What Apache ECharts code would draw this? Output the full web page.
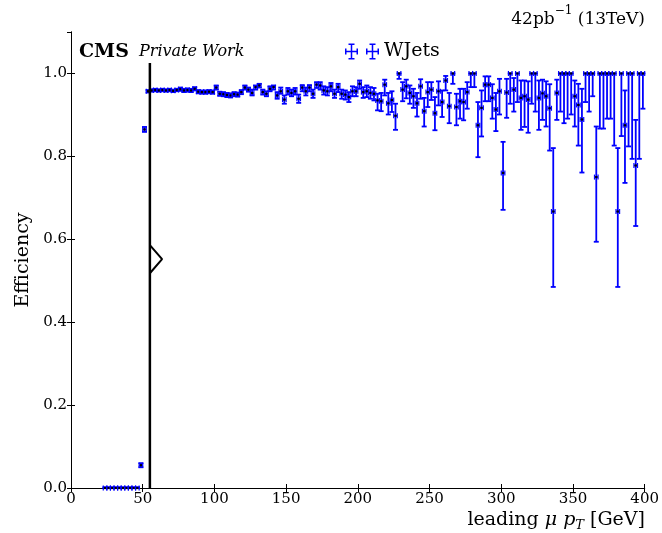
<!DOCTYPE html>
<html>
<head>
<meta charset="utf-8">
<script src="https://cdn.jsdelivr.net/npm/echarts/dist/echarts.min.js"></script>
<style>
  html, body { margin: 0; padding: 0; background: #fff; }
  #chart { width: 662px; height: 533px; }
</style>
</head>
<body>
<div id="chart"></div>
<script>
// histogram binning of leading muon pT (GeV)
const BIN_START = 22.5;
const BIN_WIDTH = 2.5;

// trigger efficiency per bin, and the ends of its error bar
const efficiency = [
  0, 0, 0, 0, 0, 0, 0, 0, 0, 0,
  0.055, 0.865, 0.957, 0.959, 0.960, 0.959, 0.960, 0.959, 0.960, 0.958,
  0.960, 0.962, 0.959, 0.960, 0.959, 0.963, 0.956, 0.955, 0.955, 0.956,
  0.955, 0.966, 0.951, 0.950, 0.948, 0.947, 0.950, 0.949, 0.955, 0.966,
  0.961, 0.953, 0.967, 0.971, 0.955, 0.951, 0.963, 0.967, 0.947, 0.957,
  0.937, 0.957, 0.953, 0.957, 0.939, 0.966, 0.957, 0.966, 0.951, 0.973,
  0.971, 0.959, 0.957, 0.969, 0.951, 0.967, 0.951, 0.949, 0.943, 0.957,
  0.957, 0.975, 0.955, 0.957, 0.953, 0.951, 0.935, 0.933, 0.973, 0.928,
  0.936, 0.898, 1.000, 0.961, 0.969, 0.953, 0.945, 0.928, 0.969, 0.909,
  0.955, 0.961, 0.904, 0.957, 0.931, 0.983, 0.921, 1.000, 0.919, 0.933,
  0.931, 0.955, 1.000, 1.000, 0.875, 0.917, 0.973, 0.973, 0.941, 0.913,
  0.957, 0.760, 0.954, 1.000, 0.961, 1.000, 0.941, 0.945, 0.937, 1.000,
  1.000, 0.941, 0.952, 0.945, 0.916, 0.667, 0.953, 1.000, 1.000, 1.000,
  1.000, 0.945, 0.924, 0.889, 1.000, 1.000, 1.000, 0.750, 1.000, 1.000,
  1.000, 1.000, 1.000, 0.667, 1.000, 0.875, 1.000, 1.000, 0.778, 1.000,
  1.000
];
const effLow = [
  0, 0, 0, 0, 0, 0, 0, 0, 0, 0,
  0.050, 0.859, 0.954, 0.956, 0.957, 0.956, 0.957, 0.956, 0.957, 0.955,
  0.957, 0.958, 0.955, 0.956, 0.955, 0.959, 0.952, 0.951, 0.951, 0.952,
  0.951, 0.961, 0.946, 0.945, 0.943, 0.942, 0.945, 0.944, 0.950, 0.961,
  0.956, 0.947, 0.961, 0.966, 0.949, 0.945, 0.957, 0.961, 0.939, 0.951,
  0.927, 0.949, 0.945, 0.949, 0.929, 0.957, 0.947, 0.957, 0.941, 0.965,
  0.961, 0.949, 0.947, 0.957, 0.941, 0.955, 0.939, 0.937, 0.931, 0.945,
  0.945, 0.963, 0.941, 0.943, 0.939, 0.935, 0.911, 0.909, 0.947, 0.901,
  0.907, 0.864, 0.987, 0.933, 0.940, 0.927, 0.917, 0.896, 0.939, 0.872,
  0.919, 0.936, 0.863, 0.923, 0.895, 0.959, 0.880, 0.975, 0.875, 0.891,
  0.887, 0.915, 0.967, 0.967, 0.798, 0.848, 0.933, 0.933, 0.891, 0.861,
  0.901, 0.671, 0.893, 0.927, 0.908, 0.931, 0.864, 0.871, 0.857, 0.927,
  0.908, 0.864, 0.888, 0.872, 0.814, 0.485, 0.888, 0.908, 0.880, 0.891,
  0.901, 0.872, 0.826, 0.761, 0.931, 0.908, 0.945, 0.594, 0.867, 0.867,
  0.891, 0.891, 0.826, 0.485, 0.849, 0.736, 0.824, 0.794, 0.632, 0.794,
  0.915
];
const effHigh = [
  0.002, 0.002, 0.002, 0.002, 0.002, 0.002, 0.002, 0.002, 0.002, 0.002,
  0.060, 0.871, 0.960, 0.962, 0.963, 0.962, 0.963, 0.962, 0.963, 0.961,
  0.963, 0.966, 0.963, 0.964, 0.963, 0.967, 0.960, 0.959, 0.959, 0.960,
  0.959, 0.971, 0.956, 0.955, 0.953, 0.952, 0.955, 0.954, 0.960, 0.971,
  0.966, 0.961, 0.971, 0.975, 0.961, 0.957, 0.969, 0.971, 0.955, 0.966,
  0.947, 0.965, 0.961, 0.965, 0.949, 0.972, 0.966, 0.972, 0.961, 0.979,
  0.979, 0.969, 0.967, 0.977, 0.961, 0.975, 0.961, 0.959, 0.955, 0.969,
  0.967, 0.983, 0.967, 0.971, 0.967, 0.965, 0.951, 0.953, 0.985, 0.953,
  0.957, 0.927, 1.000, 0.979, 0.985, 0.971, 0.963, 0.953, 0.986, 0.941,
  0.979, 0.979, 0.943, 0.981, 0.959, 0.994, 0.953, 1.000, 0.951, 0.963,
  0.963, 0.979, 1.000, 1.000, 0.931, 0.959, 0.993, 0.993, 0.974, 0.953,
  0.987, 0.835, 0.987, 1.000, 0.989, 1.000, 0.983, 0.983, 0.981, 1.000,
  1.000, 0.983, 0.985, 0.981, 0.974, 0.820, 0.985, 1.000, 1.000, 1.000,
  1.000, 0.983, 0.975, 0.963, 1.000, 1.000, 1.000, 0.872, 1.000, 1.000,
  1.000, 1.000, 1.000, 0.820, 1.000, 0.959, 1.000, 1.000, 0.888, 1.000,
  1.000
];

// offline cut at 55 GeV, with its arrow
const cutLine = [[55, 0], [55, 1.025]];
const cutArrow = [[55, 0.586], [63.5, 0.552], [55, 0.518]];

const SERIF = '"DejaVu Serif", "Liberation Serif", serif';

const binCenters = efficiency.map((_, i) => BIN_START + BIN_WIDTH * (i + 0.5));
const points = efficiency.map((e, i) => [binCenters[i], e, effLow[i], effHigh[i]]);

// two errorbar glyphs, like the matplotlib legend handle
function glyph(cx) {
  const r = (x, y, w, h) => `M${x} ${y}h${w}v${h}h${-w}Z`;
  return r(cx - 0.75, 0.5, 1.5, 15) + r(cx - 3, 0, 6, 1.5) + r(cx - 3, 14.5, 6, 1.5) +
    r(cx - 6.5, 7.25, 13, 1.5) + r(cx - 6.5, 5, 1.5, 6) + r(cx + 5, 5, 1.5, 6);
}
const legendIcon = 'path://' + glyph(6.5) + glyph(27.5);

function renderErrorBar(params, api) {
  const x = api.value(0);
  const y = api.value(1);
  const c = api.coord([x, y]);
  const left = api.coord([x - BIN_WIDTH / 2, y]);
  const right = api.coord([x + BIN_WIDTH / 2, y]);
  const bot = api.coord([x, api.value(2)]);
  const top = api.coord([x, api.value(3)]);
  const cap = 2.5;
  const seg = (x1, y1, x2, y2, w) => ({
    type: 'line',
    shape: {x1, y1, x2, y2},
    style: {stroke: '#0000ff', lineWidth: w},
  });
  return {
    type: 'group',
    children: [
      seg(c[0], bot[1], c[0], top[1], 1.8),
      seg(c[0] - cap, bot[1], c[0] + cap, bot[1], 1.8),
      seg(c[0] - cap, top[1], c[0] + cap, top[1], 1.8),
      seg(left[0], c[1], right[0], c[1], 1.5),
      seg(left[0], c[1] - cap, left[0], c[1] + cap, 1.2),
      seg(right[0], c[1] - cap, right[0], c[1] + cap, 1.2),
      {type: 'rect', shape: {x: c[0] - 1.1, y: c[1] - 1.1, width: 2.2, height: 2.2}, style: {fill: '#000'}},
    ],
  };
}

const chart = echarts.init(document.getElementById('chart'));

const axisCommon = {
  axisLine: {show: true, lineStyle: {color: '#000', width: 1}},
  axisTick: {show: true, inside: true, length: 4, lineStyle: {color: '#000'}},
  splitLine: {show: false},
};

const option = {
  animation: false,
  grid: {left: 71, right: 16, top: 32, bottom: 45},
  legend: {
    data: [{name: 'WJets', icon: legendIcon}],
    left: 340,
    top: 37,
    itemWidth: 34,
    itemHeight: 16,
    selectedMode: false,
    textStyle: {fontFamily: SERIF, fontSize: 19, color: '#000'},
  },
  xAxis: [
    {
      type: 'value', min: 0, max: 400, interval: 50, position: 'bottom',
      ...axisCommon,
      axisLabel: {fontFamily: SERIF, fontSize: 15, color: '#000', margin: 4},
    },
    {
      type: 'value', min: 0, max: 400, interval: 50, position: 'top',
      ...axisCommon,
      axisLabel: {show: false},
    },
  ],
  yAxis: [
    {
      type: 'value', min: 0, max: 1.1, interval: 0.2, position: 'left',
      ...axisCommon,
      name: 'Efficiency',
      nameLocation: 'middle',
      nameGap: 36,
      nameTextStyle: {fontFamily: SERIF, fontSize: 19, color: '#000'},
      axisLabel: {
        fontFamily: SERIF, fontSize: 15, color: '#000', margin: 4,
        showMaxLabel: false,
        formatter: (v) => v.toFixed(1),
      },
    },
    {
      type: 'value', min: 0, max: 1.1, interval: 0.2, position: 'right',
      ...axisCommon,
      axisLabel: {show: false},
    },
  ],
  graphic: [
    {
      type: 'text', left: 79, top: 43,
      style: {text: 'CMS', font: 'bold 19px ' + SERIF, fill: '#000'},
    },
    {
      type: 'text', left: 139, top: 44,
      style: {text: 'Private Work', font: 'italic 16px ' + SERIF, fill: '#000'},
    },
    {
      type: 'text', right: 17, top: 5,
      style: {
        text: '{n|42pb}{s|\u22121}{n| (13TeV)}',
        fill: '#000',
        rich: {
          n: {font: '17px ' + SERIF, lineHeight: 23, verticalAlign: 'bottom'},
          s: {font: '12px ' + SERIF, lineHeight: 12, verticalAlign: 'top'},
        },
      },
    },
    {
      type: 'text', right: 17, top: 511,
      style: {
        text: '{n|leading }{i|\u03bc p}{s|T}{n| [GeV]}',
        fill: '#000',
        rich: {
          n: {font: '19px ' + SERIF, lineHeight: 24, verticalAlign: 'middle'},
          i: {font: 'italic 19px ' + SERIF, lineHeight: 24, verticalAlign: 'middle'},
          s: {font: 'italic 13px ' + SERIF, lineHeight: 14, verticalAlign: 'bottom'},
        },
      },
    },
  ],
  series: [
    {
      name: 'WJets',
      type: 'custom',
      renderItem: renderErrorBar,
      itemStyle: {color: '#0000ff'},
      encode: {x: 0, y: 1},
      data: points,
      z: 3,
      silent: true,
    },
    {
      name: 'cut',
      type: 'line',
      data: cutLine,
      symbol: 'none',
      lineStyle: {color: '#000', width: 2.5},
      z: 5,
      silent: true,
    },
    {
      name: 'cutArrow',
      type: 'line',
      data: cutArrow,
      symbol: 'none',
      lineStyle: {color: '#000', width: 2},
      z: 5,
      silent: true,
    },
  ],
};

chart.setOption(option);
</script>
</body>
</html>
